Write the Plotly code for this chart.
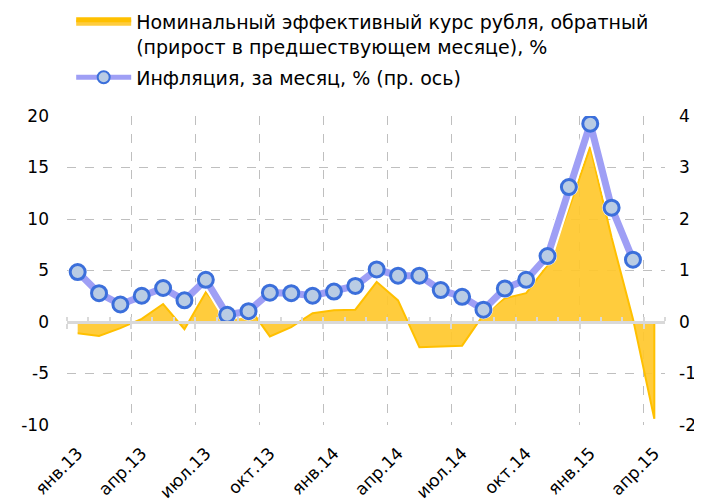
import plotly.graph_objects as go

months = ["янв.13", "фев.13", "мар.13", "апр.13", "май.13", "июн.13", "июл.13", "авг.13", "сен.13", "окт.13", "ноя.13", "дек.13",
          "янв.14", "фев.14", "мар.14", "апр.14", "май.14", "июн.14", "июл.14", "авг.14", "сен.14", "окт.14", "ноя.14", "дек.14",
          "янв.15", "фев.15", "мар.15", "апр.15"]

neer_inverse = [-1.1, -1.35, -0.6, 0.3, 1.75, -0.7, 2.9, 0.5, 1.5, -1.4, -0.5, 0.85,
                1.15, 1.2, 3.9, 2.1, -2.45, -2.35, -2.3, 0.7, 2.3, 2.8, 5.5, 11.0,
                17.0, 8.2, 0.3, -9.4]

inflation = [0.97, 0.56, 0.34, 0.51, 0.66, 0.42, 0.82, 0.14, 0.21, 0.57, 0.56, 0.51,
             0.59, 0.70, 1.02, 0.90, 0.90, 0.62, 0.49, 0.24, 0.65, 0.82, 1.28, 2.62,
             3.85, 2.22, 1.21]

left_ticks = [-10, -5, 0, 5, 10, 15, 20]
right_ticks = [-2, -1, 0, 1, 2, 3, 4]

name_neer = "Номинальный эффективный курс рубля, обратный<br>(прирост в предшествующем месяце), %"
name_infl = "Инфляция, за месяц, % (пр. ось)"

x_all = list(range(len(months)))
x_infl = x_all[:len(inflation)]
label_pos = x_all[::3]
label_txt = months[::3]

# closed polygon between the series and zero (same as fill to zero)
poly_x = x_all + x_all[::-1]
poly_y = neer_inverse + [0] * len(neer_inverse)

FONT = "DejaVu Sans, Verdana, sans-serif"
GRID = "#BFBFBF"

fig = go.Figure()
fig.add_trace(go.Scatter(
    x=poly_x, y=poly_y, name=name_neer, mode="lines", legendgroup="a",
    line=dict(color="#FFC000", width=2), fill="toself",
    fillcolor="rgba(255,200,45,0.92)", yaxis="y", hoverinfo="skip"))
# white halo under inflation line
fig.add_trace(go.Scatter(
    x=x_infl, y=inflation, mode="lines+markers", showlegend=False, legendgroup="b",
    line=dict(color="white", width=11),
    marker=dict(size=19, color="white", line=dict(width=0)),
    yaxis="y2", hoverinfo="skip"))
fig.add_trace(go.Scatter(
    x=x_infl, y=inflation, name=name_infl, mode="lines+markers", legendgroup="b",
    line=dict(color="#9F9FF5", width=7),
    marker=dict(size=15, color="#B9CCE4", line=dict(color="#3B6FDB", width=3)),
    yaxis="y2", hoverinfo="skip"))
# helper trace for the zero axis with month ticks and quarter gridlines
fig.add_trace(go.Scatter(
    x=x_all, y=neer_inverse, mode="lines", line=dict(width=0), opacity=0,
    showlegend=False, xaxis="x2", yaxis="y", hoverinfo="skip"))

fig.update_layout(
    width=702, height=502,
    margin=dict(l=59, r=45, t=108, b=85, autoexpand=False),
    paper_bgcolor="white", plot_bgcolor="white",
    font=dict(family=FONT, size=17, color="#000000"),
    showlegend=True,
    legend=dict(x=0.007, y=1.0 + 113 / 309, xanchor="left", yanchor="top",
                font=dict(size=19, family=FONT, color="#000000"),
                itemwidth=55, itemsizing="constant", tracegroupgap=3,
                valign="top", traceorder="grouped", bgcolor="rgba(0,0,0,0)"),
    xaxis=dict(range=[-0.5, len(months) - 0.5], tickmode="array",
               tickvals=label_pos, ticktext=label_txt, tickangle=-45,
               showgrid=False, zeroline=False, showline=False, ticks="",
               ticklabelstandoff=14, tickfont=dict(size=17, family=FONT)),
    xaxis2=dict(overlaying="x", anchor="free", position=1/3,
                range=[-0.5, len(months) - 0.5], tickmode="linear",
                tick0=-0.5, dtick=3, ticks="outside", ticklen=5,
                tickcolor="#D9D9D9", tickwidth=2,
                minor=dict(ticks="inside", dtick=1, tick0=-0.5, ticklen=4,
                           tickcolor="#D9D9D9", tickwidth=2, showgrid=False),
                showticklabels=False, showline=True, linewidth=3,
                linecolor="#D9D9D9", showgrid=True, gridcolor=GRID,
                griddash="dash", gridwidth=1, zeroline=False, layer="above traces"),
    yaxis=dict(range=[-10, 20], tickmode="array", tickvals=left_ticks,
               ticktext=[str(v) for v in left_ticks], showgrid=True,
               gridcolor=GRID, griddash="dash", gridwidth=1, zeroline=False,
               ticks="", ticklabelstandoff=17, tickfont=dict(size=17, family=FONT)),
    yaxis2=dict(range=[-2, 4], tickmode="array", tickvals=right_ticks,
                ticktext=[str(v) for v in right_ticks], overlaying="y", side="right",
                showgrid=False, zeroline=False, ticks="", ticklabelstandoff=13,
                tickfont=dict(size=17, family=FONT)),
)

fig.write_html("out.html")
